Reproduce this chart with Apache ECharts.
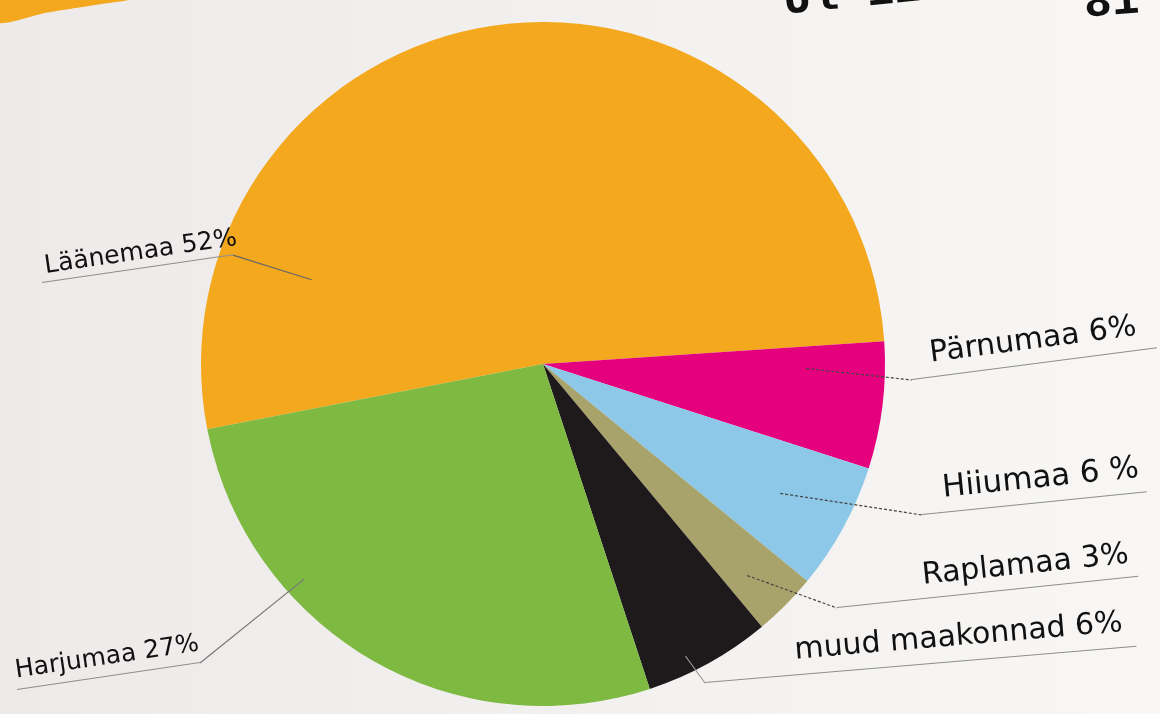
<!DOCTYPE html>
<html>
<head>
<meta charset="utf-8">
<script src="https://cdn.jsdelivr.net/npm/echarts@6/dist/echarts.min.js"></script>
<style>
html,body{margin:0;padding:0;background:#f1efee;overflow:hidden}
#chart{width:1160px;height:714px}
</style>
</head>
<body>
<div id="chart"></div>
<script>
// ---- data ----
const regionNames = ['Läänemaa', 'Pärnumaa', 'Hiiumaa', 'Raplamaa', 'muud maakonnad', 'Harjumaa'];
const regionShares = [52, 6, 6, 3, 6, 27];
const shareLabels = ['52%', '6%', '6 %', '3%', '6%', '27%'];
const sliceColors = ['#F3A81E', '#E5007E', '#8EC8E8', '#A8A36A', '#1E1A1B', '#7EB942'];
const titleFragments = ['Ul 12', '81'];

// ---- layout / styles ----
const PIE_CX = 543, PIE_CY = 364, PIE_R = 342, START_ANGLE = 191;
const labelPlacement = [
  {ul: [42, 283],  len: 193, ang: 8.3, off: 5,  padB: 5,  fs: 25, hook: 'right', from: [160, 0.72],  color: '#666666', dash: false},
  {ul: [912, 380], len: 247, ang: 7.4, off: 21, padB: 15, fs: 30, hook: 'left',  from: [-1, 0.77],   color: '#444444', dash: true},
  {ul: [922, 515], len: 226, ang: 5.8, off: 23, padB: 15, fs: 31, hook: 'left',  from: [-28.6, 0.79], color: '#444444', dash: true},
  {ul: [837, 608], len: 303, ang: 5.9, off: 88, padB: 14, fs: 30, hook: 'left',  from: [-46, 0.86],  color: '#444444', dash: true},
  {ul: [705, 683], len: 433, ang: 4.8, off: 92, padB: 17, fs: 30, hook: 'left',  from: [-64, 0.95],  color: '#999999', dash: false},
  {ul: [17, 690],  len: 185, ang: 8.4, off: 1,  padB: 11, fs: 25, hook: 'right', from: [222, 0.94],  color: '#777777', dash: false}
];

const rich = {};
labelPlacement.forEach(function (p, i) {
  rich['t' + i] = {fontSize: p.fs, fontFamily: 'DejaVu Sans', color: '#111111', lineHeight: p.fs, padding: [0, 0, p.padB, p.off]};
  rich['u' + i] = {width: p.len, height: 1, lineHeight: 1, backgroundColor: '#8e8e8e'};
});

const chart = echarts.init(document.getElementById('chart'), null, {renderer: 'canvas'});

const pieBase = {
  type: 'pie',
  center: [PIE_CX, PIE_CY],
  radius: PIE_R,
  startAngle: START_ANGLE,
  clockwise: true,
  avoidLabelOverlap: false,
  silent: true,
  emphasis: {disabled: true}
};

chart.setOption({
  animation: false,
  backgroundColor: {
    type: 'linear', x: 0, y: 0, x2: 1, y2: 0,
    colorStops: [{offset: 0, color: '#edeae9'}, {offset: 1, color: '#f8f7f6'}]
  },
  graphic: [
    {type: 'polygon', shape: {points: [[0, 0], [128, 0], [95, 5], [45, 13], [0, 23]], smooth: 0.2}, style: {fill: '#F3A81E'}, silent: true},
    {type: 'text', x: 786, y: 25, rotation: 0.1, style: {text: titleFragments[0], fontSize: 46, fontFamily: 'Liberation Mono', fontWeight: 'bold', fill: '#111', verticalAlign: 'bottom'}, silent: true},
    {type: 'text', x: 1086, y: 28, rotation: 0.08, style: {text: titleFragments[1], fontSize: 46, fontFamily: 'Liberation Mono', fontWeight: 'bold', fill: '#111', verticalAlign: 'bottom'}, silent: true}
  ],
  series: [
    Object.assign({}, pieBase, {
      z: 2,
      label: {show: false},
      labelLine: {show: false},
      data: regionNames.map(function (n, i) {
        return {name: n, value: regionShares[i], itemStyle: {color: sliceColors[i]}};
      })
    }),
    Object.assign({}, pieBase, {
      z: 5,
      itemStyle: {color: 'rgba(0,0,0,0)'},
      label: {
        show: true,
        position: 'outside',
        formatter: function (params) {
          const i = params.dataIndex;
          return '{t' + i + '|' + regionNames[i] + ' ' + shareLabels[i] + '}\n{u' + i + '|}';
        },
        rich: rich
      },
      labelLine: {show: true, length: 10, length2: 10, smooth: false},
      labelLayout: function (params) {
        const p = labelPlacement[params.dataIndex];
        const a = p.ang * Math.PI / 180;
        const ex = p.ul[0] + p.len * Math.cos(a);
        const ey = p.ul[1] - p.len * Math.sin(a);
        const hook = p.hook === 'right' ? [ex, ey] : [p.ul[0], p.ul[1]];
        const fa = p.from[0] * Math.PI / 180;
        const sx = PIE_CX + PIE_R * p.from[1] * Math.cos(fa);
        const sy = PIE_CY - PIE_R * p.from[1] * Math.sin(fa);
        return {
          x: p.ul[0], y: p.ul[1], rotate: p.ang,
          align: 'left', verticalAlign: 'bottom',
          labelLinePoints: [[sx, sy], hook, hook]
        };
      },
      data: regionNames.map(function (n, i) {
        const p = labelPlacement[i];
        return {
          name: n,
          value: regionShares[i],
          labelLine: {lineStyle: {color: p.color, width: 1.2, type: p.dash ? [3, 2] : 'solid'}}
        };
      })
    })
  ]
});
</script>
</body>
</html>
